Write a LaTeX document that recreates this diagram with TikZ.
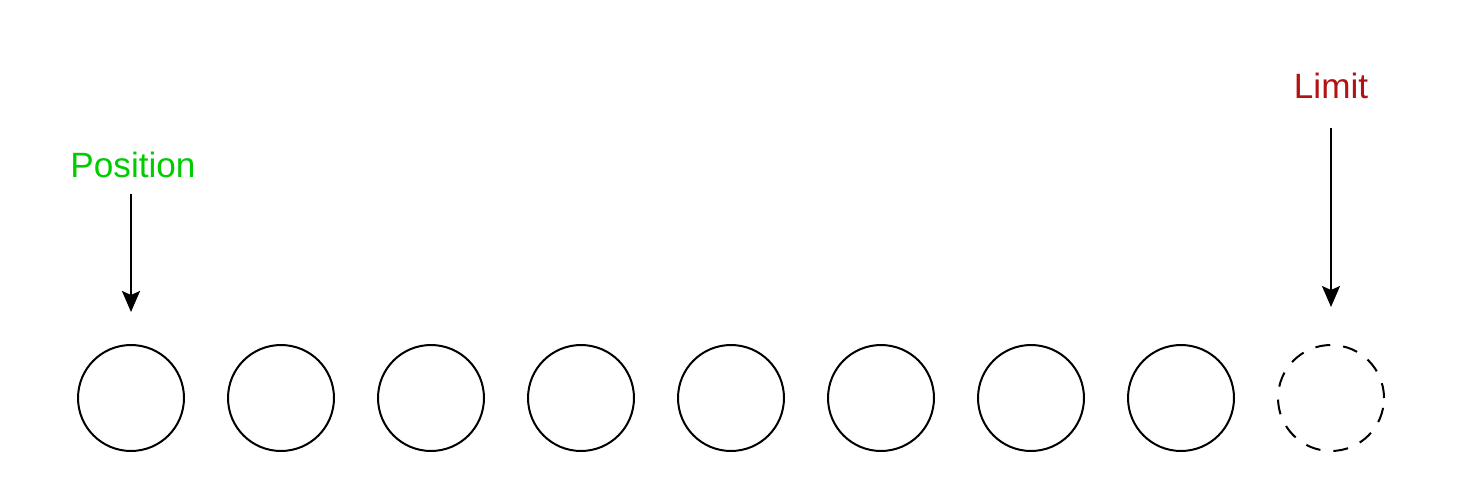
\documentclass[tikz,border=0pt]{standalone}
\usepackage{fontspec}
\setmainfont{Liberation Sans}
\usepackage{xcolor}
\usetikzlibrary{arrows.meta,positioning}

\definecolor{posgreen}{RGB}{0,204,0}
\definecolor{limred}{RGB}{179,18,18}

\tikzset{
	slot/.style={draw, circle, line width=0.04cm, minimum size=2.12cm, inner sep=0pt},
	freeslot/.style={slot, dash pattern=on 0.3cm off 0.26cm},
	marker/.style={anchor=base, inner sep=0pt, font=\fontsize{20}{24}\selectfont},
	pointer/.style={line width=0.04cm, -{Stealth[length=0.42cm, width=0.36cm, inset=0.08cm]}}
}

\begin{document}
\begin{tikzpicture}[x=0.02cm, y=-0.02cm]
		
		\useasboundingbox (0,0) rectangle (1480,486);
		
		% the buffer slots
		\foreach \i in {1,...,8}
		{
			\node[slot] (c\i) at ({131+150*(\i-1)},398) {};
		}
		
		\node[freeslot] (c9) at (1331,398) {};
		
		\node[
		marker,
		text=posgreen
		]
		(pos)
		at (133,178)
		{Position};
		
		\node[
		marker,
		text=limred
		]
		(lim)
		at (1331,99)
		{Limit};
		
		\coordinate (ptip) at (131,312);
		\coordinate (ltip) at (1331,307);
		
		\draw[pointer, shorten <=0.3cm] (pos.south -| ptip) -- (ptip);
		\draw[pointer, shorten <=0.56cm] (lim.south -| ltip) -- (ltip);
		
	\end{tikzpicture}
\end{document}
